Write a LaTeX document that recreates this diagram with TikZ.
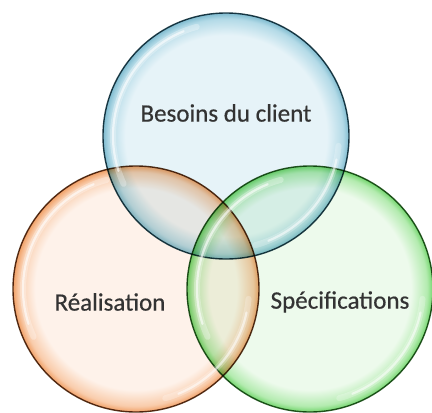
\documentclass[tikz,border=0pt]{standalone}
\usepackage{fontspec}
\setmainfont{Carlito}
\newfontfamily\policeBulle[FakeBold=0.5]{Carlito}
\usepackage{tikz}
\usetikzlibrary{positioning, shapes.geometric}
\definecolor{bleuC}{HTML}{E6F3F8}
\definecolor{bleuM}{HTML}{B3DAE7}
\definecolor{bleuF}{HTML}{7FBBCF}
\definecolor{bleuT}{HTML}{22414B}
\definecolor{orangeC}{HTML}{FEF2EA}
\definecolor{orangeM}{HTML}{F9CCAB}
\definecolor{orangeF}{HTML}{F0A066}
\definecolor{orangeT}{HTML}{55341C}
\definecolor{vertC}{HTML}{EDFAEC}
\definecolor{vertM}{HTML}{B3EBAF}
\definecolor{vertF}{HTML}{72D56C}
\definecolor{vertT}{HTML}{2A5A27}
\definecolor{texteG}{HTML}{333333}
\pgfdeclareradialshading{ombreBleue}{\pgfpoint{0bp}{0bp}}{color(0bp)=(bleuC); color(20.5bp)=(bleuC); color(23.8bp)=(bleuM); color(25bp)=(bleuF); color(50bp)=(bleuF)}
\pgfdeclareradialshading{ombreOrange}{\pgfpoint{0bp}{0bp}}{color(0bp)=(orangeC); color(20.5bp)=(orangeC); color(23.8bp)=(orangeM); color(25bp)=(orangeF); color(50bp)=(orangeF)}
\pgfdeclareradialshading{ombreVerte}{\pgfpoint{0bp}{0bp}}{color(0bp)=(vertC); color(20.5bp)=(vertC); color(23.8bp)=(vertM); color(25bp)=(vertF); color(50bp)=(vertF)}
\tikzset{
	node distance=3cm,
	on grid,
	bulle/.style={circle, minimum size=246pt, inner sep=0pt, line width=1.4pt},
	reflet/.style={white, line cap=round, line width=#1},
	texte/.style={font=\policeBulle\fontsize{25}{29}\selectfont, text=texteG},
}

\begin{document}
\begin{tikzpicture}
			
			\useasboundingbox (0,0) rectangle (432pt,-413pt);
			
			\begin{scope}[blend mode=multiply]
				\node[bulle, shading=ombreBleue, draw=bleuT] (BESOINS) at (226pt,-136pt) {};
				\node[bulle, shading=ombreOrange, draw=orangeT, below left=153pt and 90pt of BESOINS] (REALISATION) {};
				\node[bulle, shading=ombreVerte, draw=vertT, below right=153pt and 84pt of BESOINS] (SPECIFICATIONS) {};
			\end{scope}
			
			\foreach \b in {BESOINS, REALISATION, SPECIFICATIONS} {
				\draw[reflet=6pt, opacity=0.3] (\b.center) ++(105:113pt) arc[start angle=105, end angle=205, radius=113pt];
				\draw[reflet=2.2pt, opacity=0.6] (\b.center) ++(112:113pt) arc[start angle=112, end angle=198, radius=113pt];
				\draw[reflet=6pt, opacity=0.25] (\b.center) ++(-5:113pt) arc[start angle=-5, end angle=-75, radius=113pt];
				\draw[reflet=2.2pt, opacity=0.55] (\b.center) ++(-12:113pt) arc[start angle=-12, end angle=-68, radius=113pt];
			}
			
			\node[texte, above=23pt of BESOINS] (tBesoins) {Besoins du client};
			\node[texte, below left=13pt and 26pt of REALISATION] (tRealisation) {Réalisation};
			\node[texte, below right=13pt and 30pt of SPECIFICATIONS] (tSpecifications) {Spécifications};
			
\end{tikzpicture}
\end{document}
